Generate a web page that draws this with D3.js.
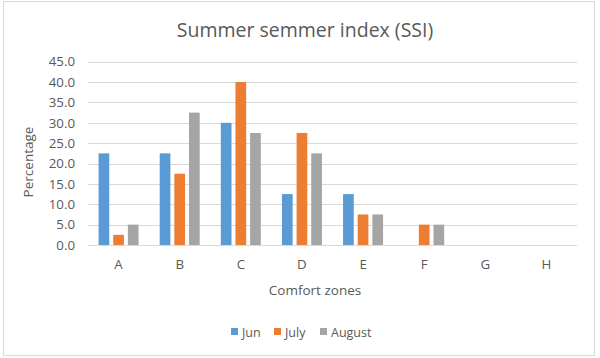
<!DOCTYPE html>
<html><head><meta charset="utf-8">
<script src="https://cdn.jsdelivr.net/npm/d3@7/dist/d3.min.js"></script>
<style>body{margin:0;background:#fff;}svg{display:block;font-family:"Open Sans",sans-serif;}</style>
</head><body>
<svg id="c" width="600" height="358"></svg>
<script>
const categories = ["A","B","C","D","E","F","G","H"];
const seriesNames = ["Jun","July","August"];
const junValues = [22.5,22.5,30,12.5,12.5,0,0,0];
const julyValues = [2.5,17.5,40,27.5,7.5,5,0,0];
const augustValues = [5,32.5,27.5,22.5,7.5,5,0,0];
const yTicks = [0,5,10,15,20,25,30,35,40,45];
const colors = ["#5b9bd5","#ed7d31","#a5a5a5"];
const seriesValues = [junValues, julyValues, augustValues];

(function(){
const svg = d3.select("#c");
svg.append("rect").attr("x",3.5).attr("y",1.5).attr("width",591).attr("height",354)
  .attr("fill","#fff").attr("stroke","#d9d9d9");

const pLeft=88, pRight=577, pTop=61.7, pBottom=245;
const x = d3.scaleBand().domain(categories).range([pLeft,pRight]).paddingInner(0).paddingOuter(0);
const y = d3.scaleLinear().domain([0,45]).range([pBottom,pTop]);
const x1 = d3.scaleBand().domain(seriesNames).range([0,40]).paddingInner(0.27);

svg.append("g").selectAll("line").data(yTicks).join("line")
  .attr("x1",pLeft).attr("x2",pRight).attr("y1",d=>Math.round(y(d))+0.5).attr("y2",d=>Math.round(y(d))+0.5)
  .attr("stroke","#d9d9d9").attr("stroke-width",1);

const yAxis = d3.axisLeft(y).tickValues(yTicks).tickFormat(d3.format(".1f")).tickSize(0).tickPadding(0);
const ga = svg.append("g").attr("transform",`translate(75,0)`).call(yAxis);
ga.select(".domain").remove();
ga.selectAll("text").attr("fill","#595959").attr("font-size","13.3px").attr("font-family","Open Sans, sans-serif");

const groupW = 40;
categories.forEach((c,i)=>{
  seriesNames.forEach((s,j)=>{
    const v = seriesValues[j][i];
    if(v<=0) return;
    const bx = x(c) + (x.bandwidth()-groupW)/2 + x1(s);
    svg.append("rect").attr("x",bx).attr("y",y(v)).attr("width",x1.bandwidth()).attr("height",pBottom-y(v))
      .attr("fill",colors[j]);
  });
});

const xAxis = d3.axisBottom(x).tickSize(0).tickPadding(0);
const gx = svg.append("g").attr("transform",`translate(0,${pBottom})`).call(xAxis);
gx.select(".domain").remove();
gx.selectAll("text").attr("fill","#595959").attr("font-size","13.3px").attr("dy","0").attr("y",23.5).attr("font-family","Open Sans, sans-serif");
svg.append("line").attr("x1",pLeft).attr("x2",pRight).attr("y1",pBottom+0.5).attr("y2",pBottom+0.5).attr("stroke","#d9d9d9");

svg.append("text").attr("x",305).attr("y",37).attr("text-anchor","middle").attr("fill","#595959")
  .attr("font-size","19.5px").text("Summer semmer index (SSI)");
svg.append("text").attr("x",315).attr("y",295).attr("text-anchor","middle").attr("fill","#595959")
  .attr("font-size","13.5px").text("Comfort zones");
svg.append("text").attr("transform","translate(33,162) rotate(-90)").attr("text-anchor","middle").attr("fill","#595959")
  .attr("font-size","13.5px").text("Percentage");

const legendX = [231,274,320];
seriesNames.forEach((s,j)=>{
  svg.append("rect").attr("x",legendX[j]).attr("y",328).attr("width",7).attr("height",7).attr("fill",colors[j]);
  svg.append("text").attr("x",legendX[j]+11).attr("y",336.5).attr("fill","#595959").attr("font-size","12.5px").text(s);
});
})();
</script>
</body></html>
